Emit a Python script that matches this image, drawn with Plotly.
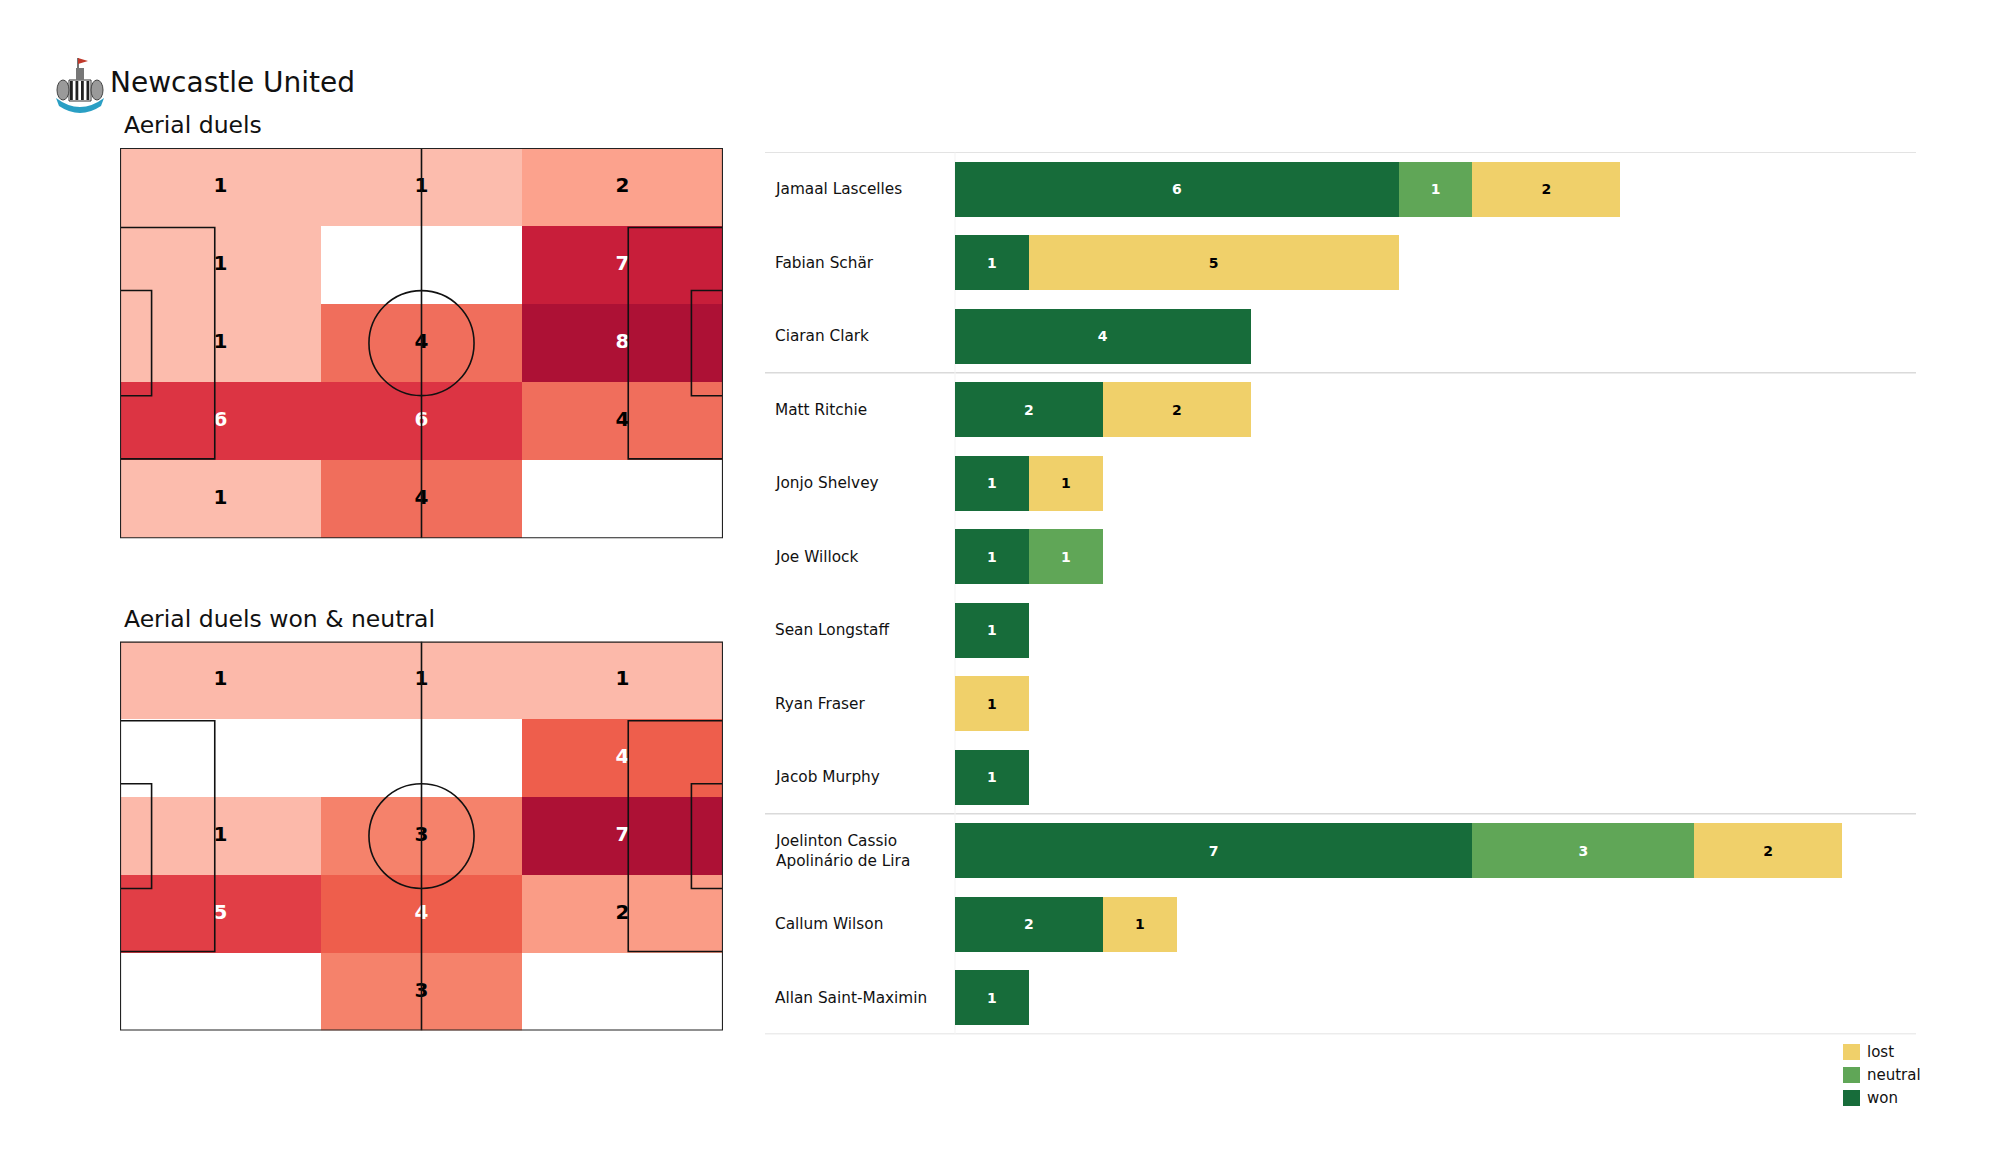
import plotly.graph_objects as go

# ---------------- data ----------------
team = "Newcastle United"
title_all = "Aerial duels"
title_won = "Aerial duels won & neutral"

# zone counts, rows listed from top of pitch to bottom, columns left to right
zones_all = [
    [1, 1, 2],
    [1, 0, 7],
    [1, 4, 8],
    [6, 6, 4],
    [1, 4, 0],
]
zones_won = [
    [1, 1, 1],
    [0, 0, 4],
    [1, 3, 7],
    [5, 4, 2],
    [0, 3, 0],
]

players = [
    "Jamaal Lascelles", "Fabian Schär", "Ciaran Clark",
    "Matt Ritchie", "Jonjo Shelvey", "Joe Willock", "Sean Longstaff",
    "Ryan Fraser", "Jacob Murphy",
    "Joelinton Cassio<br>Apolinário de Lira", "Callum Wilson", "Allan Saint-Maximin",
]
won = [6, 1, 4, 2, 1, 1, 1, 0, 1, 7, 2, 1]
neutral = [1, 0, 0, 0, 0, 1, 0, 0, 0, 3, 0, 0]
lost = [2, 5, 0, 2, 1, 0, 0, 1, 0, 2, 1, 0]
group_sizes = [3, 6, 3]

series_names = ["won", "neutral", "lost"]
series_colors = ["#176c3a", "#60a657", "#f0d06a"]
series_text = ["white", "white", "black"]

# ---------------- styling / geometry ----------------
W, H = 2000, 1175
OFF = 8  # page body margin in the browser
FONT = "DejaVu Sans"
PL, PW = 105.0, 68.0
NC, NR = 3, 5

reds = [
    [0.0, "#fff0ea"], [0.125, "#fcbcad"], [0.143, "#fcb9aa"], [0.25, "#fca28d"],
    [0.286, "#fa9c86"], [0.429, "#f5826b"], [0.5, "#f06e5c"], [0.571, "#ee5e4c"],
    [0.714, "#e13e46"], [0.75, "#dc3443"], [0.875, "#c81e3a"], [1.0, "#ad1135"],
]


def px(x):
    return (x - OFF) / W


def py(y):
    return 1 - (y - OFF) / H


fig = go.Figure()

xc = [(i + 0.5) * PL / NC for i in range(NC)]
yc = [PW - (j + 0.5) * PW / NR for j in range(NR)]


def add_pitch(zones, xa, ya):
    zmax = max(max(r) for r in zones)
    zplot = [[(v if v > 0 else None) for v in r] for r in zones]
    fig.add_trace(go.Heatmap(
        z=zplot, x=xc, y=yc, zmin=0, zmax=zmax, colorscale=reds,
        showscale=False, hoverinfo="skip", xaxis=xa, yaxis=ya,
    ))
    tx, ty, tt, tcol = [], [], [], []
    for j, r in enumerate(zones):
        for i, v in enumerate(r):
            if v > 0:
                tx.append(xc[i]); ty.append(yc[j]); tt.append(str(v))
                tcol.append("white" if v / zmax > 0.55 else "black")
    fig.add_trace(go.Scatter(
        x=tx, y=ty, text=tt, mode="text", hoverinfo="skip", showlegend=False,
        textfont=dict(family=FONT, size=20, color=tcol, weight="bold"),
        xaxis=xa, yaxis=ya,
    ))
    ln = dict(color="#111111", width=1.6)
    shp = [
        dict(type="line", x0=PL / 2, x1=PL / 2, y0=0, y1=PW, line=ln),
        dict(type="circle", x0=PL / 2 - 9.15, x1=PL / 2 + 9.15, y0=PW / 2 - 9.15, y1=PW / 2 + 9.15, line=ln),
        dict(type="rect", x0=0, x1=16.5, y0=PW / 2 - 20.16, y1=PW / 2 + 20.16, line=ln),
        dict(type="rect", x0=PL - 16.5, x1=PL, y0=PW / 2 - 20.16, y1=PW / 2 + 20.16, line=ln),
        dict(type="rect", x0=0, x1=5.5, y0=PW / 2 - 9.16, y1=PW / 2 + 9.16, line=ln),
        dict(type="rect", x0=PL - 5.5, x1=PL, y0=PW / 2 - 9.16, y1=PW / 2 + 9.16, line=ln),
        dict(type="rect", x0=0, x1=PL, y0=0, y1=PW, line=dict(color="#222222", width=2.2)),
    ]
    for s in shp:
        s.update(xref=xa, yref=ya, layer="above")
        fig.add_shape(**s)


add_pitch(zones_all, "x", "y")
add_pitch(zones_won, "x2", "y2")

# ---------------- bars ----------------
for name, vals, col, tcol in zip(series_names, [won, neutral, lost], series_colors, series_text):
    fig.add_trace(go.Bar(
        y=players, x=[(v if v > 0 else None) for v in vals], orientation="h",
        name=name, marker=dict(color=col, line=dict(width=0)),
        text=[(str(v) if v > 0 else "") for v in vals], textposition="inside",
        insidetextanchor="middle", textangle=0, constraintext="none",
        textfont=dict(family=FONT, size=14, color=tcol, weight="bold"),
        hoverinfo="skip", showlegend=False, xaxis="x3", yaxis="y3",
    ))

# row labels
for p in players:
    fig.add_annotation(x=px(773), y=p, xref="paper", yref="y3", text=p, showarrow=False,
                       xanchor="left", yanchor="middle", align="left",
                       font=dict(family=FONT, size=15.3, color="#111111"))

# group separators
bounds = [0]
for g in group_sizes:
    bounds.append(bounds[-1] + g)
for b in bounds:
    fig.add_shape(type="line", xref="paper", yref="y3", x0=px(765), x1=px(1916),
                  y0=b - 0.5, y1=b - 0.5, line=dict(color="#dadada", width=1.6), layer="below")
fig.add_shape(type="line", xref="paper", yref="y3", x0=px(955), x1=px(955),
              y0=-0.5, y1=len(players) - 0.5, line=dict(color="#f3f3f3", width=1), layer="below")

# legend (lost, neutral, won from top)
for k, (name, col) in enumerate(zip(series_names[::-1], series_colors[::-1])):
    cy = 1052 + 23 * k
    fig.add_shape(type="rect", xref="paper", yref="paper", x0=px(1843), x1=px(1860),
                  y0=py(cy + 8), y1=py(cy - 8), fillcolor=col, line=dict(width=0))
    fig.add_annotation(x=px(1865), y=py(cy), xref="paper", yref="paper", text=name,
                       showarrow=False, xanchor="left", yanchor="middle",
                       font=dict(family=FONT, size=15, color="#111111"))

# titles
fig.add_annotation(x=px(108), y=py(83), xref="paper", yref="paper", text=team, showarrow=False,
                   xanchor="left", yanchor="middle", font=dict(family=FONT, size=28, color="#111111"))
fig.add_annotation(x=px(122), y=py(125), xref="paper", yref="paper", text=title_all, showarrow=False,
                   xanchor="left", yanchor="middle", font=dict(family=FONT, size=23.5, color="#111111"))
fig.add_annotation(x=px(122), y=py(619), xref="paper", yref="paper", text=title_won, showarrow=False,
                   xanchor="left", yanchor="middle", font=dict(family=FONT, size=23.5, color="#111111"))

# simple crest drawing
crest = [
    dict(type="path", path=f"M {px(56)},{py(98)} Q {px(80)},{py(116)} {px(104)},{py(98)} L {px(101)},{py(106)} Q {px(80)},{py(120)} {px(59)},{py(106)} Z",
         fillcolor="#2a9fc4", line=dict(width=0)),
    dict(type="rect", x0=px(69), x1=px(91), y0=py(101), y1=py(80), fillcolor="white", line=dict(color="#333", width=1)),
]
for i in range(4):
    crest.append(dict(type="rect", x0=px(70 + i * 5.5), x1=px(72.8 + i * 5.5), y0=py(100), y1=py(81),
                      fillcolor="#222", line=dict(width=0)))
crest += [
    dict(type="circle", x0=px(57), x1=px(69), y0=py(100), y1=py(80), fillcolor="#9a9a9a", line=dict(color="#444", width=1)),
    dict(type="circle", x0=px(91), x1=px(103), y0=py(100), y1=py(80), fillcolor="#9a9a9a", line=dict(color="#444", width=1)),
    dict(type="rect", x0=px(76), x1=px(84), y0=py(80), y1=py(68), fillcolor="#777", line=dict(width=0)),
    dict(type="line", x0=px(78), x1=px(78), y0=py(68), y1=py(58), line=dict(color="#444", width=1.5)),
    dict(type="path", path=f"M {px(78)},{py(58)} L {px(88)},{py(61)} L {px(78)},{py(64)} Z", fillcolor="#c0392b", line=dict(width=0)),
]
for s in crest:
    s["xref"] = "paper"; s["yref"] = "paper"
    fig.add_shape(**s)

hid = dict(visible=False, fixedrange=True, showgrid=False, zeroline=False)
fig.update_layout(
    width=W, height=H, margin=dict(l=0, r=0, t=0, b=0),
    paper_bgcolor="white", plot_bgcolor="white", showlegend=False,
    barmode="stack", bargap=0.252,
    xaxis=dict(domain=[px(120), px(723)], range=[0, PL], **hid),
    yaxis=dict(domain=[py(538.3), py(148)], range=[0, PW], **hid),
    xaxis2=dict(domain=[px(120), px(723)], range=[0, PL], **hid),
    yaxis2=dict(domain=[py(1030.6), py(641.6)], range=[0, PW], **hid),
    xaxis3=dict(domain=[px(955), px(1916)], range=[0, 13], **hid),
    yaxis3=dict(domain=[py(1034.3), py(152.3)], type="category", categoryarray=players,
                range=[len(players) - 0.5, -0.5], **hid),
)

fig.write_html("out.html")
